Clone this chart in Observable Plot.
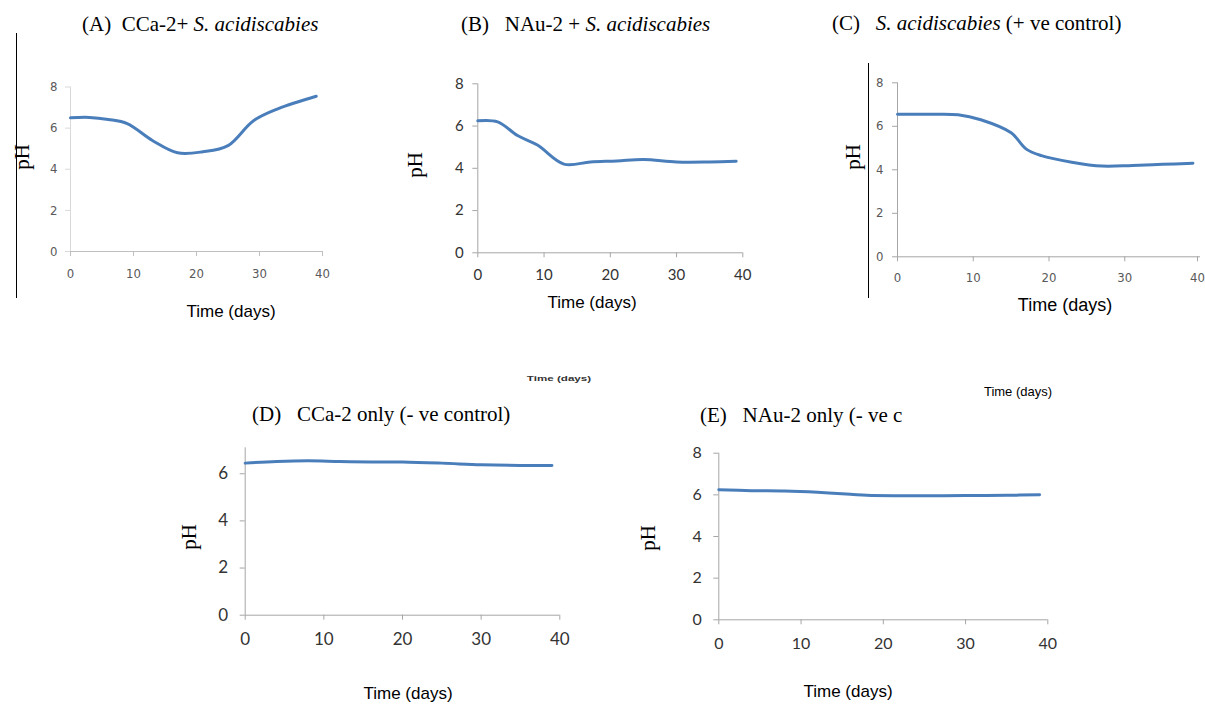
<!DOCTYPE html>
<html><head><meta charset="utf-8">
<script src="https://cdn.jsdelivr.net/npm/d3@7"></script>
<script src="https://cdn.jsdelivr.net/npm/@observablehq/plot@0.6"></script>
<style>
body{margin:0;background:#fff;width:1205px;height:704px;position:relative;overflow:hidden}
.t{position:absolute;white-space:nowrap;font-family:"Liberation Serif","Times New Roman",serif;color:#000;font-size:21px;line-height:1}
.ph{position:absolute;font-family:"Liberation Serif","Times New Roman",serif;font-size:21px;transform:translate(-50%,-50%) rotate(-90deg);white-space:nowrap;line-height:1}
.xl{position:absolute;font-family:"Liberation Sans",Arial,sans-serif;font-size:17px;transform:translate(-50%,-50%);white-space:nowrap;line-height:1;color:#000}
.p{position:absolute}
.vl{position:absolute;width:1px;background:#000}
</style></head><body>
<script>
// ---- data ----
const xTicks = [0, 10, 20, 30, 40];
const yTicks8 = [0, 2, 4, 6, 8];
const yTicks6 = [0, 2, 4, 6];

const daysA = [0, 3, 6, 9, 13, 17, 21, 25, 29, 33, 39];
const phA   = [6.5, 6.52, 6.42, 6.22, 5.4, 4.8, 4.85, 5.15, 6.35, 6.95, 7.55];

const daysB = [0, 3, 6, 9, 13, 17, 21, 25, 30, 35, 39];
const phB   = [6.25, 6.2, 5.55, 5.1, 4.2, 4.3, 4.35, 4.42, 4.3, 4.3, 4.33];

const daysC = [0, 4, 8, 11, 15, 17, 19, 23, 27, 31, 35, 39];
const phC   = [6.55, 6.55, 6.53, 6.3, 5.7, 4.95, 4.65, 4.35, 4.17, 4.2, 4.25, 4.3];

const daysD = [0, 4, 8, 12, 16, 20, 25, 30, 35, 39];
const phD   = [6.45, 6.52, 6.55, 6.52, 6.5, 6.5, 6.45, 6.38, 6.35, 6.35];

const daysE = [0, 4, 8, 12, 16, 18, 22, 26, 30, 35, 39];
const phE   = [6.25, 6.2, 6.18, 6.12, 6.03, 5.98, 5.96, 5.96, 5.97, 5.98, 6.0];

const zip = (d, p) => d.map((day, i) => ({day, ph: p[i]}));

const LINE = "#4a7ebb";
const narrow = '"Liberation Sans Narrow","DejaVu Sans Condensed",sans-serif';
const humanist = 'Lato,"Open Sans",sans-serif';

function panel(cfg) {
  const div = document.createElement("div");
  div.className = "p";
  div.style.left = cfg.left + "px";
  div.style.top = cfg.top + "px";
  const xAxes = cfg.lastDx
    ? [
        Plot.axisX({ticks: xTicks.slice(0, -1), tickSize: 5, tickPadding: cfg.xPad, stroke: cfg.axisColor, fill: cfg.labelColor, label: null, tickFormat: d => d}),
        Plot.axisX({ticks: xTicks.slice(-1), tickSize: 5, tickPadding: cfg.xPad, stroke: cfg.axisColor, fill: cfg.labelColor, label: null, tickFormat: d => d, dx: cfg.lastDx})
      ]
    : [Plot.axisX({ticks: xTicks, tickSize: 5, tickPadding: cfg.xPad, stroke: cfg.axisColor, fill: cfg.labelColor, label: null, tickFormat: d => d})];
  const chart = Plot.plot({
    width: cfg.width, height: cfg.height,
    marginLeft: cfg.mL, marginRight: cfg.mR, marginTop: cfg.mT, marginBottom: cfg.mB,
    x: {domain: [0, 40]},
    y: {domain: [0, cfg.ymax]},
    style: {fontFamily: cfg.font, fontSize: cfg.fs + "px", background: "transparent", overflow: "visible"},
    marks: [
      Plot.ruleX([0], {stroke: cfg.yAxisColor || cfg.axisColor}),
      Plot.ruleY([0], {stroke: cfg.axisColor}),
      ...xAxes,
      Plot.axisY({ticks: cfg.yTicks, tickSize: 5, tickPadding: cfg.yPad, stroke: cfg.yAxisColor || cfg.axisColor, fill: cfg.labelColor, label: null, tickFormat: d => d}),
      Plot.lineY(cfg.data, {x: "day", y: "ph", curve: "catmull-rom", stroke: LINE, strokeWidth: cfg.sw || 3, strokeLinecap: "round"})
    ]
  });
  div.appendChild(chart);
  document.body.appendChild(div);
}

function text(cls, html, x, y, extra) {
  const d = document.createElement("div");
  d.className = cls;
  d.innerHTML = html;
  d.style.left = x + "px";
  d.style.top = y + "px";
  if (extra) Object.assign(d.style, extra);
  document.body.appendChild(d);
}

// Panel A
panel({left: 30, top: 70, width: 310, height: 225, mL: 40, mR: 18, mT: 16.5, mB: 44, ymax: 8, yTicks: yTicks8,
  data: zip(daysA, phA), font: narrow, fs: 13, labelColor: "#595959", axisColor: "#bfbfbf", yAxisColor: "#d9d9d9", xPad: 12, yPad: 8});
// Panel B
panel({left: 430, top: 70, width: 330, height: 225, mL: 47.3, mR: 17.7, mT: 13.3, mB: 42.7, ymax: 8, yTicks: yTicks8,
  data: zip(daysB, phB), font: humanist, fs: 15, labelColor: "#333", axisColor: "#a6a6a6", xPad: 12, yPad: 9});
// Panel C
panel({left: 860, top: 70, width: 345, height: 225, mL: 37, mR: 5, mT: 12.3, mB: 38.7, ymax: 8, yTicks: yTicks8,
  data: zip(daysC, phC), font: narrow, fs: 13, labelColor: "#595959", axisColor: "#a6a6a6", xPad: 11, yPad: 9, lastDx: -3});
// Panel D
panel({left: 190, top: 430, width: 390, height: 240, mL: 54.7, mR: 20.7, mT: 17.3, mB: 55.3, ymax: 7.1, yTicks: yTicks6,
  data: zip(daysD, phD), font: humanist, fs: 17, labelColor: "#333", axisColor: "#a6a6a6", xPad: 13, yPad: 12});
// Panel E
panel({left: 670, top: 430, width: 400, height: 240, mL: 48.3, mR: 22.7, mT: 22.7, mB: 50.7, ymax: 8, yTicks: yTicks8,
  data: zip(daysE, phE), font: humanist, fs: 16, labelColor: "#333", axisColor: "#a6a6a6", xPad: 13, yPad: 12});

// Titles
text("t", "(A)&nbsp; CCa-2+ <i>S. acidiscabies</i>", 82, 14);
text("t", "(B)&nbsp;&nbsp; NAu-2 + <i>S. acidiscabies</i>", 461, 14);
text("t", "(C)&nbsp;&nbsp; <i>S. acidiscabies</i> (+ ve control)", 832, 13);
text("t", "(D)&nbsp;&nbsp; CCa-2 only (- ve control)", 252, 404);
text("t", "(E)&nbsp;&nbsp; NAu-2 only (- ve c", 700, 405);

// y labels
text("ph", "pH", 22, 157);
text("ph", "pH", 415, 165);
text("ph", "pH", 853, 157);
text("ph", "pH", 189, 537);
text("ph", "pH", 648, 538);

// x labels
text("xl", "Time (days)", 231, 311);
text("xl", "Time (days)", 592, 302);
text("xl", "Time (days)", 1065, 305, {fontSize: "18px"});
text("xl", "Time (days)", 408, 693);
text("xl", "Time (days)", 848, 691);
text("xl", "Time (days)", 559, 379, {fontSize: "8px", transform: "translate(-50%,-50%) scaleX(1.45)", color: "#333", fontWeight: "bold"});
text("xl", "Time (days)", 1018, 391, {fontSize: "13px"});

// decorative vertical rules
const v1 = document.createElement("div"); v1.className = "vl";
Object.assign(v1.style, {left: "16px", top: "33px", height: "265px"}); document.body.appendChild(v1);
const v2 = document.createElement("div"); v2.className = "vl";
Object.assign(v2.style, {left: "868px", top: "63px", height: "235px"}); document.body.appendChild(v2);
</script>
</body></html>
